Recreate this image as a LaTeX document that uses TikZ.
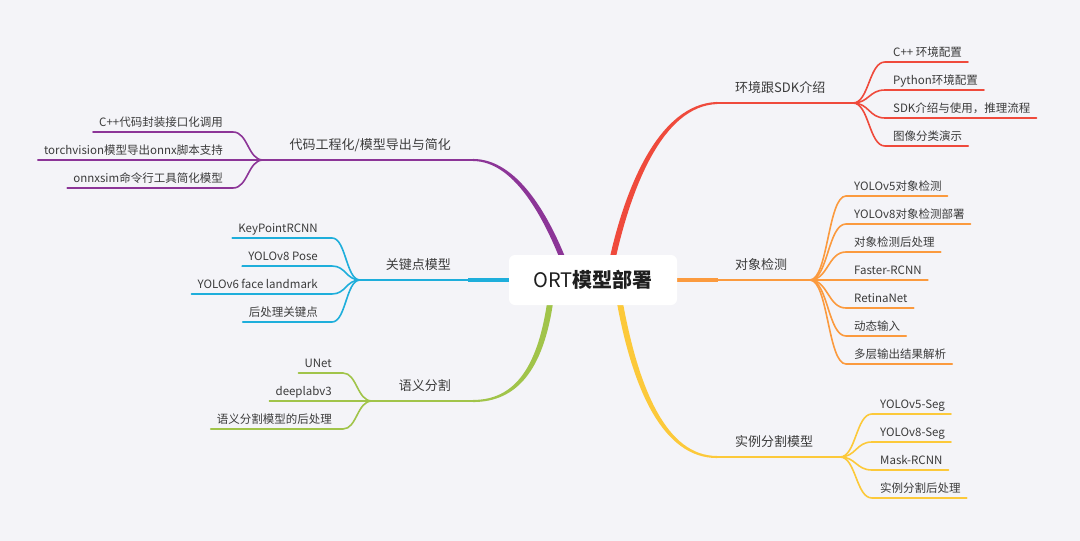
\documentclass[tikz,border=0pt]{standalone}
\usepackage{fontspec}
\setmainfont{Noto Sans CJK SC}
\usetikzlibrary{calc}
\pgfdeclarelayer{bg}\pgfdeclarelayer{links}
\pgfsetlayers{bg,links,main}
\definecolor{bgc}{HTML}{F4F4F8}
\definecolor{cred}{HTML}{EF4A3C}
\definecolor{corange}{HTML}{FB9A3E}
\definecolor{cyellow}{HTML}{FCC93A}
\definecolor{cpurple}{HTML}{8C3597}
\definecolor{cblue}{HTML}{1EAEDB}
\definecolor{cgreen}{HTML}{A1C44A}
\definecolor{txt}{HTML}{3B3B3B}
\begin{document}
\begin{tikzpicture}[x=1pt,y=-1pt,
  leaf/.style={font=\fontsize{11.5}{13}\selectfont, text=txt, inner sep=0pt},
  topic/.style={font=\fontsize{13}{15}\selectfont, text=txt, inner sep=0pt},
  mainl/.style={line width=2.1pt, line cap=round},
  leafl/.style={line width=1.6pt, line cap=round},
]
\begin{pgfonlayer}{bg}\fill[bgc] (0,0) rectangle (1080,541);\end{pgfonlayer}
\useasboundingbox (0,0) rectangle (1080,541);

% centre
\node[fill=white, rounded corners=6pt, minimum width=168pt, minimum height=50pt,
      inner sep=0pt, font=\fontsize{20}{24}\selectfont, text=black!88] (ctr) at (593,280) {ORT\textbf{模型部署}};

% ---------- red ----------
\coordinate (rR) at ($(ctr.north)+(20,2)$);
\coordinate (rE) at (717,103);
\coordinate (rF) at (853,103);
\node[topic, anchor=base west] (rT) at (735,92) {环境跟SDK介绍};
\begin{pgfonlayer}{links}
\fill[cred] ($(rR)+(-3,0)$) .. controls (625,190) and (658,104) .. ($(rE)+(0,-1.05)$)
  -- ($(rE)+(0,1.05)$) .. controls (662,106) and (631,190) .. ($(rR)+(3,0)$) -- cycle;
\draw[mainl, cred] (rE) -- (rF);
\end{pgfonlayer}
\foreach \n/\y/\t in {r1/62/{C++ 环境配置}, r2/90/{Python环境配置}, r3/118/{SDK介绍与使用，推理流程}, r4/146/{图像分类演示}} {
  \node[leaf, anchor=base west] (\n) at (893,\y-6) {\t};
  \coordinate (\n-s) at (885,\y);
  \begin{pgfonlayer}{links}
  \draw[leafl, cred] (rF) .. controls ($(rF)+(16,0)$) and ($(rF |- \n-s)+(16,0)$) .. (\n-s) -- ($(\n.east |- \n-s)+(6,0)$);
  \end{pgfonlayer}
}

% ---------- orange ----------
\coordinate (oM) at (718,280);
\coordinate (oF) at (810,280);
\node[topic, anchor=base west] (oT) at (735,269) {对象检测};
\begin{pgfonlayer}{links}
\draw[line width=3.6pt, corange] ($(ctr.east)+(-3,0)$) -- (oM);
\draw[mainl, corange] (oM) -- (oF);
\end{pgfonlayer}
\foreach \n/\y/\t in {o1/196/{YOLOv5对象检测}, o2/224/{YOLOv8对象检测部署}, o3/252/{对象检测后处理}, o4/280/{Faster-RCNN}, o5/308/{RetinaNet}, o6/336/{动态输入}, o7/364/{多层输出结果解析}} {
  \node[leaf, anchor=base west] (\n) at (854,\y-6) {\t};
  \coordinate (\n-s) at (846,\y);
  \begin{pgfonlayer}{links}
  \draw[leafl, corange] (oF) .. controls ($(oF)+(18,0)$) and ($(oF |- \n-s)+(18,0)$) .. (\n-s) -- ($(\n.east |- \n-s)+(6,0)$);
  \end{pgfonlayer}
}

% ---------- yellow ----------
\coordinate (yR) at ($(ctr.south)+(27,-2)$);
\coordinate (yE) at (717,457);
\coordinate (yF) at (840,457);
\node[topic, anchor=base west] (yT) at (735,446) {实例分割模型};
\begin{pgfonlayer}{links}
\fill[cyellow] ($(yR)+(-3,0)$) .. controls (633,390) and (663,458) .. ($(yE)+(0,1.05)$)
  -- ($(yE)+(0,-1.05)$) .. controls (667,456) and (639,390) .. ($(yR)+(3,0)$) -- cycle;
\draw[mainl, cyellow] (yE) -- (yF);
\end{pgfonlayer}
\foreach \n/\y/\t in {y1/414/{YOLOv5-Seg}, y2/442/{YOLOv8-Seg}, y3/470/{Mask-RCNN}, y4/498/{实例分割后处理}} {
  \node[leaf, anchor=base west] (\n) at (880,\y-6) {\t};
  \coordinate (\n-s) at (872,\y);
  \begin{pgfonlayer}{links}
  \draw[leafl, cyellow] (yF) .. controls ($(yF)+(16,0)$) and ($(yF |- \n-s)+(16,0)$) .. (\n-s) -- ($(\n.east |- \n-s)+(6,0)$);
  \end{pgfonlayer}
}

% ---------- purple ----------
\coordinate (pR) at ($(ctr.north)+(-31,2)$);
\coordinate (pE) at (473,160);
\coordinate (pF) at (263,160);
\node[topic, anchor=base east] (pT) at (451,149) {代码工程化/模型导出与简化};
\begin{pgfonlayer}{links}
\fill[cpurple] ($(pR)+(3,0)$) .. controls (548,215) and (517,159) .. ($(pE)+(0,-1.05)$)
  -- ($(pE)+(0,1.05)$) .. controls (513,161) and (542,215) .. ($(pR)+(-3,0)$) -- cycle;
\draw[mainl, cpurple] (pE) -- (pF);
\end{pgfonlayer}
\foreach \n/\y/\t in {p1/132/{C++代码封装接口化调用}, p2/160/{torchvision模型导出onnx脚本支持}, p3/188/{onnxsim命令行工具简化模型}} {
  \node[leaf, anchor=base east] (\n) at (223,\y-6) {\t};
  \coordinate (\n-s) at (233,\y);
  \begin{pgfonlayer}{links}
  \draw[leafl, cpurple] (pF) .. controls ($(pF)+(-15,0)$) and ($(pF |- \n-s)+(-15,0)$) .. (\n-s) -- ($(\n.west |- \n-s)+(-6,0)$);
  \end{pgfonlayer}
}

% ---------- blue ----------
\coordinate (bM) at (468,280);
\coordinate (bF) at (360,280);
\node[topic, anchor=base east] (bT) at (451,269) {关键点模型};
\begin{pgfonlayer}{links}
\draw[line width=3.6pt, cblue] ($(ctr.west)+(3,0)$) -- (bM);
\draw[mainl, cblue] (bM) -- (bF);
\end{pgfonlayer}
\foreach \n/\y/\t in {b1/238/{KeyPointRCNN}, b2/266/{YOLOv8 Pose}, b3/294/{YOLOv6 face landmark}, b4/322/{后处理关键点}} {
  \node[leaf, anchor=base east] (\n) at (318,\y-6) {\t};
  \coordinate (\n-s) at (332,\y);
  \begin{pgfonlayer}{links}
  \draw[leafl, cblue] (bF) .. controls ($(bF)+(-14,0)$) and ($(bF |- \n-s)+(-14,0)$) .. (\n-s) -- ($(\n.west |- \n-s)+(-6,0)$);
  \end{pgfonlayer}
}

% ---------- green ----------
\coordinate (gR) at ($(ctr.south)+(-43,-2)$);
\coordinate (gE) at (473,401);
\coordinate (gF) at (372,401);
\node[topic, anchor=base east] (gT) at (451,390) {语义分割};
\begin{pgfonlayer}{links}
\fill[cgreen] ($(gR)+(3,0)$) .. controls (543,370) and (517,402) .. ($(gE)+(0,1.05)$)
  -- ($(gE)+(0,-1.05)$) .. controls (513,400) and (537,370) .. ($(gR)+(-3,0)$) -- cycle;
\draw[mainl, cgreen] (gE) -- (gF);
\end{pgfonlayer}
\foreach \n/\y/\t in {g1/373/{UNet}, g2/401/{deeplabv3}, g3/429/{语义分割模型的后处理}} {
  \node[leaf, anchor=base east] (\n) at (332,\y-6) {\t};
  \coordinate (\n-s) at (343,\y);
  \begin{pgfonlayer}{links}
  \draw[leafl, cgreen] (gF) .. controls ($(gF)+(-15,0)$) and ($(gF |- \n-s)+(-15,0)$) .. (\n-s) -- ($(\n.west |- \n-s)+(-6,0)$);
  \end{pgfonlayer}
}
\end{tikzpicture}
\end{document}
